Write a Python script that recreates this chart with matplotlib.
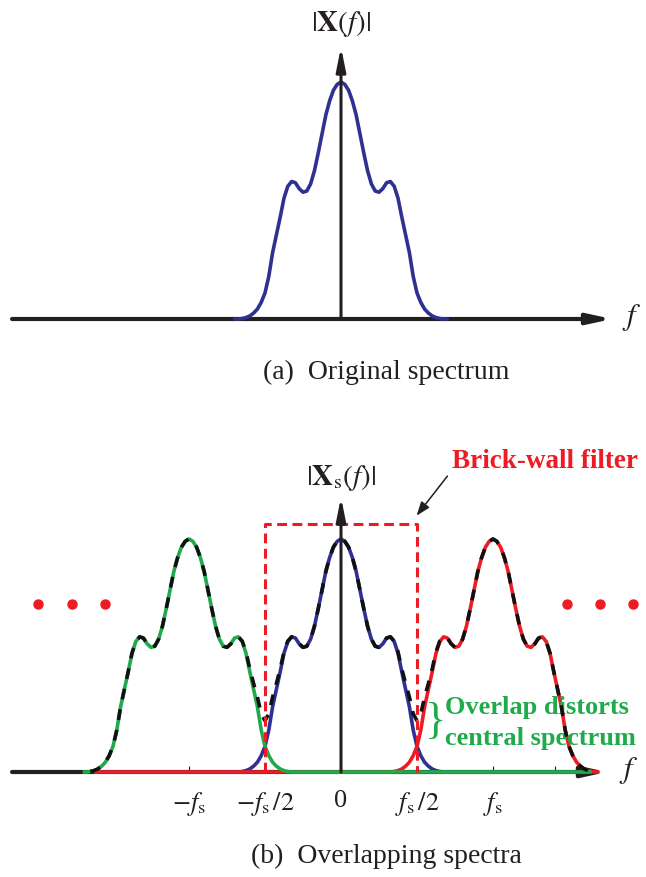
import numpy as np
import matplotlib.pyplot as plt

plt.rcParams['font.family'] = ['Liberation Serif', 'DejaVu Serif']
plt.rcParams['mathtext.fontset'] = 'stix'

# |X(f)|, f in units of fs, samples every 0.025 fs
step = 0.025
shape = [0.0, 0.0, 0.002, 0.006, 0.013, 0.025, 0.042, 0.07, 0.11, 0.18,
         0.28, 0.355, 0.43, 0.51, 0.56, 0.58, 0.575, 0.55, 0.535, 0.54,
         0.57, 0.625, 0.70, 0.78, 0.86, 0.92, 0.965, 0.99, 1.0,
         0.99, 0.965, 0.92, 0.86, 0.78, 0.70, 0.625, 0.57, 0.54, 0.535,
         0.55, 0.575, 0.58, 0.56, 0.51, 0.43, 0.355, 0.28, 0.18, 0.11,
         0.07, 0.042, 0.025, 0.013, 0.006, 0.002, 0.0, 0.0]
half_span = 0.7

# spectral copies in (b): centre, colour, plotted range
copy_centres = [0, 1, -1]
copy_colors = ['#2E3192', '#ED1C24', '#1FAA4B']
copy_ranges = [(-1.625, 1.625), (-1.625, 1.7), (-1.7, 1.65)]

tick_pos = [-1, -0.5, 0, 0.5, 1, 1.41]
tick_lbl = [r'$-f_{\mathrm{s}}$', r'$-f_{\mathrm{s}}\,/2$', '0',
            r'$f_{\mathrm{s}}\,/2$', r'$f_{\mathrm{s}}$', '']

filter_edges = (-0.5, 0.5)
filter_height = 1.064

dots_left = [-1.993, -1.770, -1.553]
dots_right = [1.487, 1.704, 1.921]
dots_y = 0.72

axis_col = '#231F20'
red = '#ED1C24'
green = '#1FAA4B'

fig = plt.figure(figsize=(6.46, 8.78), dpi=100)
ax_top = fig.add_axes([0, 438 / 878, 1, 440 / 878])
ax_bot = fig.add_axes([0, 0, 1, 438 / 878])
ax_top.set_xlim(-341 / 152, 305 / 152)
ax_top.set_ylim(-120 / 237, 320 / 237)
ax_bot.set_xlim(-341 / 152, 305 / 152)
ax_bot.set_ylim(-105 / 233, 333 / 233)

for ax in (ax_top, ax_bot):
    for s in ax.spines.values():
        s.set_visible(False)
    ax.set_yticks([])


def draw_axes(ax, x_tip, y_tip, ylabel, ylabel_y, f_x):
    ax.annotate('', xy=(x_tip, 0), xytext=(-2.164, 0),
                arrowprops=dict(arrowstyle='-|>,head_length=1.0,head_width=0.22',
                                lw=3.0, color=axis_col, shrinkA=0, shrinkB=0,
                                mutation_scale=14), zorder=1)
    ax.annotate('', xy=(0, y_tip), xytext=(0, 0),
                arrowprops=dict(arrowstyle='-|>,head_length=1.0,head_width=0.2',
                                lw=2.2, color=axis_col, shrinkA=0, shrinkB=0,
                                mutation_scale=14), zorder=10)
    ax.text(0, ylabel_y, ylabel, ha='center', va='center', fontsize=21,
            color=axis_col)
    ax.text(f_x, 0.01, r'$f$', ha='left', va='center', fontsize=22,
            color=axis_col)


# (a) original spectrum
f_a = np.linspace(-half_span, half_span, len(shape))
ax_top.plot(f_a, shape, color=copy_colors[0], lw=2.6, zorder=3,
            solid_capstyle='round')
ax_top.set_xticks([])
draw_axes(ax_top, 1.783, 1.148, r'$|\mathbf{X}(f)|$', 1.25, 1.85)

# (b) overlapping spectra
n = int(round(2 * 1.7 / step)) + 1
f_b = np.linspace(-1.7, 1.7, n)
total = np.zeros(n)
for c, col, (lo, hi) in zip(copy_centres, copy_colors, copy_ranges):
    y = np.zeros(n)
    i0 = int(round((c - half_span + 1.7) / step))
    y[i0:i0 + len(shape)] = shape
    total += y
    m = (f_b >= lo - 1e-9) & (f_b <= hi + 1e-9)
    ax_bot.plot(f_b[m], y[m], color=col, lw=2.6, zorder=3,
                solid_capstyle='butt')

m = total > 0
ax_bot.plot(f_b[m], total[m], color='#111111', lw=2.6, zorder=4,
            dashes=(3.0, 2.8))

lo, hi = filter_edges
ax_bot.plot([lo, lo, hi, hi], [0, filter_height, filter_height, 0],
            color=red, lw=2.2, dashes=(3.2, 1.8), zorder=6)

draw_axes(ax_bot, 1.75, 1.18, r'$|\mathbf{X}_{\mathrm{s}}(f)|$', 1.265, 1.83)

ax_bot.spines['bottom'].set_position(('data', 0))
ax_bot.set_xticks(tick_pos)
ax_bot.set_xticklabels(tick_lbl, fontsize=19, color=axis_col)
ax_bot.tick_params(axis='x', direction='in', length=4, width=0.8,
                   color=axis_col, pad=12)

ax_bot.plot(dots_left + dots_right, [dots_y] * 6, 'o', color=red, ms=6.5,
            zorder=5)

ax_bot.text(0.73, 1.335, 'Brick-wall filter', color=red, fontsize=19.5,
            fontweight='bold', ha='left', va='center')
ax_bot.annotate('', xy=(0.497, 1.10), xytext=(0.70, 1.27),
                arrowprops=dict(arrowstyle='-|>,head_length=0.6,head_width=0.22',
                                lw=1.1, color=axis_col, shrinkA=0, shrinkB=0,
                                mutation_scale=14))
ax_bot.text(0.684, 0.283, 'Overlap distorts', color=green, fontsize=19,
            fontweight='bold', ha='left', va='center')
ax_bot.text(0.684, 0.146, 'central spectrum', color=green, fontsize=19,
            fontweight='bold', ha='left', va='center')
ax_bot.text(0.625, 0.22, '}', color=green, fontsize=32, ha='center',
            va='center')

fig.text(386 / 646, 1 - 372 / 878, '(a)  Original spectrum', fontsize=20,
         ha='center', va='center', color=axis_col)
fig.text(386 / 646, 1 - 856 / 878, '(b)  Overlapping spectra', fontsize=20,
         ha='center', va='center', color=axis_col)

fig.savefig('out.png', dpi=100)
